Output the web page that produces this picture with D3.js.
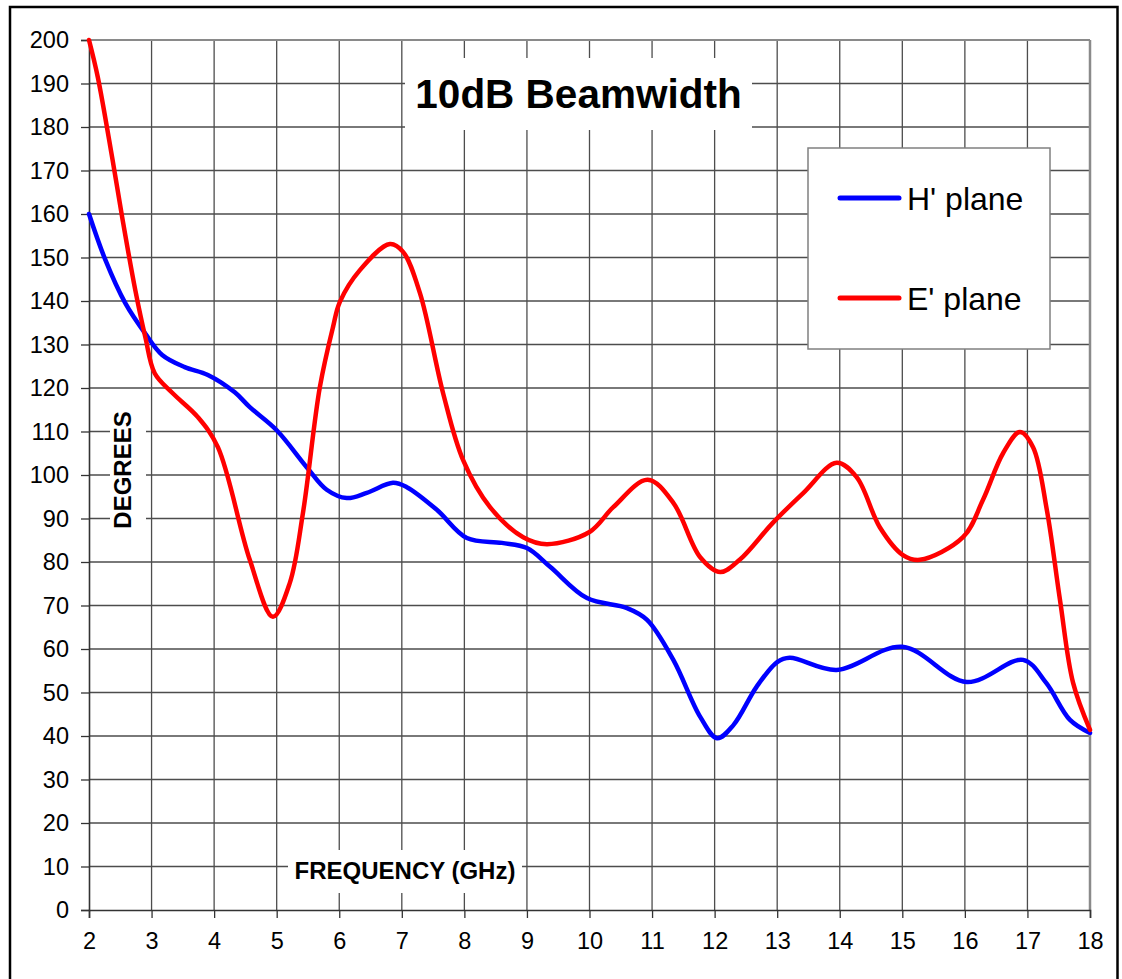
<!DOCTYPE html>
<html>
<head>
<meta charset="utf-8">
<script src="https://cdn.jsdelivr.net/npm/d3@7"></script>
<style>
  body { margin: 0; background: #fff; }
  svg { display: block; font-family: "Liberation Sans", Arial, sans-serif; }
</style>
</head>
<body>
<div id="container"></div>
<script>
// H' plane (GHz, degrees)
const hFreq = [2, 2.26, 2.58, 2.9, 3.17, 3.53, 3.9, 4.33, 4.57, 5.0, 5.48, 5.8, 6.12, 6.44, 6.86, 7.08, 7.56, 8.04, 8.6, 9.0, 9.37, 9.96, 10.6, 10.92, 11.34, 11.77, 12.04, 12.3, 12.67, 13.0, 13.2, 13.95, 15.0, 16.03, 16.93, 17.3, 17.68, 18];
const hDeg  = [160, 149.5, 139.5, 132.5, 127.6, 124.8, 123, 119, 115.6, 110.3, 101.8, 96.6, 94.7, 95.9, 98.2, 97.2, 92, 85.5, 84.4, 83.2, 78.9, 71.7, 69.4, 66.7, 57.5, 44.4, 39.5, 42.5, 51.3, 57, 58, 55.2, 60.5, 52.4, 57.5, 52.2, 43.7, 40.7];

// E' plane
const eFreq = [2, 2.14, 2.37, 2.53, 2.74, 2.9, 3.05, 3.33, 3.74, 4.06, 4.57, 4.94, 5.21, 5.42, 5.69, 5.9, 6.01, 6.33, 6.81, 7.02, 7.29, 7.66, 7.98, 8.41, 8.94, 9.32, 10.0, 10.38, 10.93, 11.34, 11.77, 12.09, 12.4, 12.93, 13.42, 13.95, 14.27, 14.64, 15.01, 15.28, 15.97, 16.29, 16.61, 16.88, 17.09, 17.31, 17.52, 17.73, 18];
const eDeg  = [200, 191.5, 173, 159.3, 142.5, 131.7, 123.4, 118.9, 113.3, 106.4, 80.5, 67.4, 75.2, 91.3, 120.2, 134, 139.8, 147.1, 153.1, 151.3, 141.8, 118.8, 103.4, 92.6, 85.7, 84.1, 86.9, 92.6, 98.9, 93.6, 81.1, 77.7, 80.5, 89, 95.9, 102.8, 99.5, 88, 81.6, 80.5, 85.7, 94.3, 105, 109.9, 106.4, 92, 71.3, 52.2, 41.4];

const xTicks = d3.range(2, 19);      // 2..18 GHz
const yTicks = d3.range(0, 201, 10); // 0..200 degrees

const series = [
  { name: "H' plane", color: '#0000ff', pts: hFreq.map((f, i) => [f, hDeg[i]]) },
  { name: "E' plane", color: '#ff0000', pts: eFreq.map((f, i) => [f, eDeg[i]]) }
];

const W = 1122, H = 979;
const plot = { left: 89, right: 1090, top: 40, bottom: 910 };

const svg = d3.select('#container').append('svg').attr('width', W).attr('height', H);
svg.append('rect').attr('width', W).attr('height', H).attr('fill', '#fff');

// outer frame (bottom edge runs off the image)
svg.append('rect').attr('x', 10).attr('y', 7).attr('width', 1107.5).attr('height', 1000)
  .attr('fill', 'none').attr('stroke', '#000').attr('stroke-width', 2.5);

const x = d3.scaleLinear().domain([2, 18]).range([plot.left, plot.right]);
const y = d3.scaleLinear().domain([0, 200]).range([plot.bottom, plot.top]);

// grid
const grid = svg.append('g').attr('stroke', '#4d4d4d').attr('stroke-width', 1.3);
xTicks.slice(1, -1).forEach(t => {
  grid.append('line').attr('x1', x(t)).attr('x2', x(t)).attr('y1', plot.top).attr('y2', plot.bottom);
});
yTicks.slice(1, -1).forEach(t => {
  grid.append('line').attr('x1', plot.left).attr('x2', plot.right).attr('y1', y(t)).attr('y2', y(t));
});

// plot border, top & right are lighter gray
svg.append('line').attr('x1', plot.left).attr('x2', plot.right).attr('y1', plot.top).attr('y2', plot.top)
  .attr('stroke', '#8a8a8a').attr('stroke-width', 2);
svg.append('line').attr('x1', plot.right).attr('x2', plot.right).attr('y1', plot.top).attr('y2', plot.bottom)
  .attr('stroke', '#8a8a8a').attr('stroke-width', 2.5);

// axes
const yAxis = svg.append('g').attr('transform', `translate(${plot.left},0)`)
  .call(d3.axisLeft(y).tickValues(yTicks).tickSize(8).tickPadding(12).tickFormat(d3.format('d')));
const xAxis = svg.append('g').attr('transform', `translate(0,${plot.bottom})`)
  .call(d3.axisBottom(x).tickValues(xTicks).tickSize(8).tickPadding(14).tickFormat(d3.format('d')));
[yAxis, xAxis].forEach(a => {
  a.select('.domain').attr('stroke', '#333').attr('stroke-width', 1.6);
  a.selectAll('.tick line').attr('stroke', '#333').attr('stroke-width', 1.3);
  a.selectAll('.tick text').attr('fill', '#000').attr('font-size', 23.5)
    .attr('font-family', '"Liberation Sans", Arial, sans-serif');
});

// boxed labels (white background hides the grid, like the original)
function boxLabel(bx, by, bw, bh) {
  svg.append('rect').attr('x', bx).attr('y', by).attr('width', bw).attr('height', bh).attr('fill', '#fff');
}

boxLabel(405, 58, 347, 72);
svg.append('text').attr('x', 578.5).attr('y', 108).attr('text-anchor', 'middle')
  .attr('font-size', 40.5).attr('font-weight', 'bold').text('10dB Beamwidth');

boxLabel(110, 400, 36, 140);
svg.append('text').attr('transform', 'translate(131,470) rotate(-90)').attr('text-anchor', 'middle')
  .attr('font-size', 24).attr('font-weight', 'bold').text('DEGREES');

boxLabel(288, 850, 234, 43);
svg.append('text').attr('x', 405).attr('y', 879).attr('text-anchor', 'middle')
  .attr('font-size', 24).attr('font-weight', 'bold').text('FREQUENCY (GHz)');

// curves
const line = d3.line().x(d => x(d[0])).y(d => y(d[1])).curve(d3.curveCatmullRom.alpha(0.5));
series.forEach(s => {
  svg.append('path').datum(s.pts).attr('d', line)
    .attr('fill', 'none').attr('stroke', s.color).attr('stroke-width', 4.5)
    .attr('stroke-linejoin', 'round').attr('stroke-linecap', 'round');
});

// legend
const lg = svg.append('g');
lg.append('rect').attr('x', 808).attr('y', 148).attr('width', 242).attr('height', 201)
  .attr('fill', '#fff').attr('stroke', '#808080').attr('stroke-width', 1.5);
series.forEach((s, i) => {
  const ly = 198 + i * 100;
  lg.append('line').attr('x1', 840).attr('x2', 899).attr('y1', ly).attr('y2', ly)
    .attr('stroke', s.color).attr('stroke-width', 5).attr('stroke-linecap', 'round');
  lg.append('text').attr('x', 907).attr('y', ly + 12).attr('font-size', 32).attr('fill', '#000').text(s.name);
});
</script>
</body>
</html>
